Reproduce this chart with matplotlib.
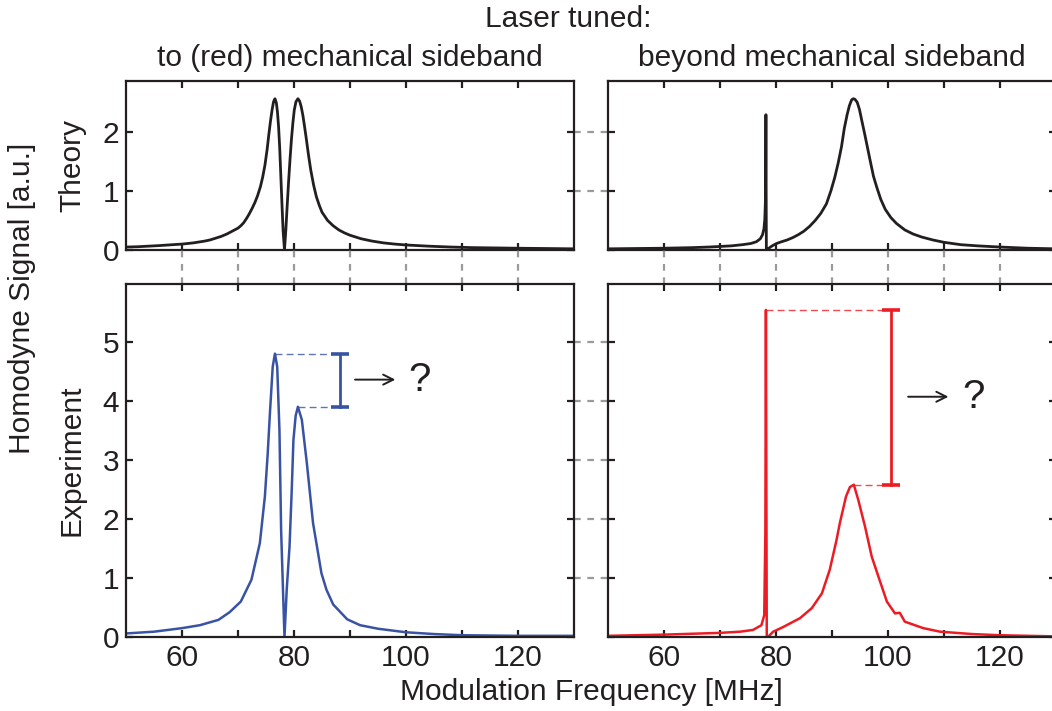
import matplotlib
matplotlib.use("Agg")
import matplotlib.pyplot as plt
from matplotlib.transforms import blended_transform_factory

plt.rcParams['font.family'] = ['Liberation Sans', 'DejaVu Sans']

# ---- data -----------------------------------------------------------------
theory_left_x = [50, 52, 54, 56, 58, 60, 62, 64, 65, 66, 67, 68, 69, 70, 70.5, 71, 71.5,
                 72, 72.5, 73, 73.5, 74, 74.4, 74.8, 75.2, 75.5, 75.8, 76.1, 76.35, 76.6,
                 76.85, 77.05, 77.25, 77.45, 77.65, 77.85, 78.05, 78.3, 78.55, 78.8,
                 79.05, 79.3, 79.55, 79.8, 80.05, 80.35, 80.7, 81.0, 81.3, 81.6, 81.9,
                 82.2, 82.6, 83.0, 83.5, 84.0, 84.5, 85, 86, 87, 88, 89, 90, 92, 94, 96,
                 98, 100, 104, 108, 112, 116, 120, 125, 130]
theory_left_y = [0.05, 0.055, 0.065, 0.075, 0.088, 0.10, 0.12, 0.15, 0.17, 0.20, 0.23,
                 0.27, 0.32, 0.37, 0.41, 0.46, 0.53, 0.61, 0.70, 0.80, 0.92, 1.07, 1.23,
                 1.43, 1.70, 1.95, 2.18, 2.38, 2.51, 2.56, 2.49, 2.33, 2.08, 1.72, 1.25,
                 0.78, 0.33, 0.00, 0.35, 0.78, 1.18, 1.55, 1.88, 2.15, 2.37, 2.51, 2.56,
                 2.52, 2.42, 2.27, 2.08, 1.88, 1.60, 1.35, 1.10, 0.90, 0.76, 0.64, 0.50,
                 0.41, 0.34, 0.29, 0.25, 0.19, 0.15, 0.12, 0.10, 0.085, 0.065, 0.05, 0.04,
                 0.035, 0.03, 0.025, 0.02]

theory_right_x = [50, 55, 60, 65, 68, 70, 72, 74, 75.5, 76.5, 77.2, 77.6, 77.85, 78.0,
                  78.1, 78.15, 78.2, 78.28, 78.6, 79.0, 79.5, 80.1, 81, 82, 83, 84, 85,
                  86, 87, 88, 89, 89.8, 90.5, 91.1, 91.7, 92.2, 92.7, 93.1, 93.5, 93.8,
                  94.1, 94.5, 94.9, 95.3, 95.8, 96.3, 96.8, 97.4, 98.0, 98.7, 99.5, 100.5,
                  101.5, 103, 104.5, 106, 108, 110, 113, 116, 120, 125, 130]
theory_right_y = [0.02, 0.025, 0.03, 0.04, 0.05, 0.06, 0.07, 0.09, 0.11, 0.14, 0.19, 0.26,
                  0.36, 0.52, 0.80, 1.20, 2.29, -0.01, 0.02, 0.05, 0.08, 0.11, 0.14, 0.17,
                  0.21, 0.26, 0.32, 0.40, 0.50, 0.62, 0.78, 1.00, 1.23, 1.47, 1.75, 2.06,
                  2.29, 2.44, 2.54, 2.56, 2.55, 2.50, 2.38, 2.20, 1.98, 1.75, 1.52, 1.25,
                  1.06, 0.86, 0.69, 0.55, 0.45, 0.34, 0.27, 0.22, 0.17, 0.13, 0.09, 0.07,
                  0.05, 0.03, 0.02]

exp_left_x = [50, 55, 60, 63.2, 66.5, 68.5, 70.5, 72.4, 73.9, 74.8, 75.3, 75.7, 76.2,
              76.6, 77.0, 77.4, 77.7, 78.0, 78.3, 78.7, 79.2, 79.6, 79.9, 80.3, 80.7,
              81.4, 82.3, 83.4, 84.9, 85.8, 87.0, 89.5, 91.8, 95, 100, 105, 110, 120, 130]
exp_left_y = [0.06, 0.09, 0.15, 0.20, 0.29, 0.42, 0.60, 0.97, 1.59, 2.38, 3.10, 3.79, 4.58,
              4.80, 4.58, 3.51, 1.81, 0.90, 0.00, 0.80, 1.53, 2.50, 3.34, 3.75, 3.90,
              3.68, 2.94, 1.93, 1.08, 0.80, 0.55, 0.30, 0.20, 0.14, 0.08, 0.05, 0.03, 0.02, 0.02]

exp_right_x = [50, 60, 70, 73.6, 75.9, 77.4, 77.9, 78.1, 78.2, 78.35, 79.5, 81.3, 84.3,
               86.4, 88.2, 89.6, 90.8, 91.4, 92.5, 93.2, 93.9, 94.7, 95.9, 97.1, 98.3,
               99.8, 101.25, 102.1, 103.0, 106.3, 109.3, 115, 120, 130]
exp_right_y = [0.02, 0.04, 0.07, 0.09, 0.12, 0.20, 0.37, 1.76, 5.54, -0.02, 0.09, 0.17, 0.32,
               0.49, 0.74, 1.14, 1.64, 1.93, 2.38, 2.54, 2.58, 2.32, 1.87, 1.36, 1.02,
               0.60, 0.40, 0.41, 0.26, 0.15, 0.09, 0.05, 0.03, 0.01]

# peak pairs whose ratio is marked (x of each peak, height of each peak, bar x)
gap_left_peaks_x = [76.6, 80.7]
gap_left_levels = [4.80, 3.90]
gap_left_bar_x = 88.2
gap_right_peaks_x = [78.2, 93.9]
gap_right_levels = [5.54, 2.58]
gap_right_bar_x = 100.5

x_ticks = [60, 70, 80, 90, 100, 110, 120]
x_ticklabels = ['60', '', '80', '', '100', '', '120']
theory_yticks = [0, 1, 2]
exp_yticks = [0, 1, 2, 3, 4, 5]

col_title_left = 'to (red) mechanical sideband'
col_title_right = 'beyond mechanical sideband'
super_title = 'Laser tuned:'

# ---- styling ----------------------------------------------------------------
INK = '#231f20'
BLUE = '#3953a4'
RED = '#ed1c24'
GREY = '#9a9a9a'
FS = 21.5

W, H = 1052, 711
fig = plt.figure(figsize=(W / 100, H / 100), dpi=100)


def box(l, t, r, b):
    return [l / W, 1 - b / H, (r - l) / W, (b - t) / H]


ax_tl = fig.add_axes(box(126, 81, 574, 250))
ax_tr = fig.add_axes(box(608, 81, 1056, 250))
ax_bl = fig.add_axes(box(126, 284, 574, 637))
ax_br = fig.add_axes(box(608, 284, 1056, 637))

for ax in (ax_tl, ax_tr, ax_bl, ax_br):
    ax.set_xlim(50, 130)
    ax.set_xticks(x_ticks)
    for s in ax.spines.values():
        s.set_linewidth(1.6)
        s.set_color(INK)
    ax.tick_params(direction='in', length=5, width=1.6, color=INK,
                   top=True, right=True, labelsize=FS, labelcolor=INK, pad=5)

for ax in (ax_tl, ax_tr):
    ax.set_ylim(0, 2.86)
    ax.set_yticks(theory_yticks)
    ax.set_xticklabels([])
for ax in (ax_bl, ax_br):
    ax.set_ylim(0, 5.98)
    ax.set_yticks(exp_yticks)
    ax.set_xticklabels(x_ticklabels)
for ax in (ax_tr, ax_br):
    ax.set_yticklabels([])

ax_tl.plot(theory_left_x, theory_left_y, color=INK, lw=2.0, solid_joinstyle='round')
ax_tr.plot(theory_right_x, theory_right_y, color=INK, lw=2.0, solid_joinstyle='round')
ax_bl.plot(exp_left_x, exp_left_y, color=BLUE, lw=1.8, solid_joinstyle='round')
ax_br.plot(exp_right_x, exp_right_y, color=RED, lw=1.8, solid_joinstyle='round')


def gap_marker(ax, peaks_x, levels, bar_x, color, arrow_x, arrow_y):
    cap = 1.6
    for px, lv in zip(peaks_x, levels):
        ax.plot([px, bar_x - cap], [lv, lv], color=color, lw=1.0, alpha=0.8,
                dashes=(5, 3))
        ax.plot([bar_x - cap, bar_x + cap], [lv, lv], color=color, lw=2.6,
                solid_capstyle='butt')
    ax.plot([bar_x, bar_x], levels, color=color, lw=2.0)
    ax.annotate('', xy=(arrow_x + 7.2, arrow_y), xytext=(arrow_x, arrow_y),
                arrowprops=dict(arrowstyle='->', color=INK, lw=1.4,
                                mutation_scale=18, shrinkA=0, shrinkB=0))
    ax.text(arrow_x + 9.6, arrow_y, '?', fontsize=29, color=INK,
            ha='left', va='center')


gap_marker(ax_bl, gap_left_peaks_x, gap_left_levels, gap_left_bar_x, BLUE, 90.9, 4.36)
gap_marker(ax_br, gap_right_peaks_x, gap_right_levels, gap_right_bar_x, RED, 103.6, 4.07)

# grey guides joining the ticks across the gaps between panels
dash = dict(color=GREY, lw=1.6, dashes=(3, 3), clip_on=False)
for top, bot in ((ax_tl, ax_bl), (ax_tr, ax_br)):
    tr = blended_transform_factory(bot.transData, fig.transFigure)
    y0 = bot.get_position().y1
    y1 = top.get_position().y0
    for xt in x_ticks:
        bot.plot([xt, xt], [y0, y1], transform=tr, **dash)
for left, right, ticks in ((ax_tl, ax_tr, theory_yticks), (ax_bl, ax_br, exp_yticks)):
    tr = blended_transform_factory(fig.transFigure, left.transData)
    x0 = left.get_position().x1
    x1 = right.get_position().x0
    for yt in ticks[1:]:
        left.plot([x0, x1], [yt, yt], transform=tr, **dash)

txt = dict(fontsize=FS, color=INK, ha='center', va='center')
fig.text(72 / W, 1 - 165 / H, 'Theory', rotation=90, **txt)
fig.text(72 / W, 1 - 460 / H, 'Experiment', rotation=90, **txt)
fig.text(22 / W, 1 - 298 / H, 'Homodyne Signal [a.u.]', rotation=90, **txt)
fig.text(591 / W, 1 - 692 / H, 'Modulation Frequency [MHz]', **txt)
fig.text(568 / W, 1 - 19 / H, super_title, **txt)
fig.text(350 / W, 1 - 58 / H, col_title_left, **txt)
fig.text(832 / W, 1 - 58 / H, col_title_right, **txt)

fig.savefig('out.png', dpi=100)
